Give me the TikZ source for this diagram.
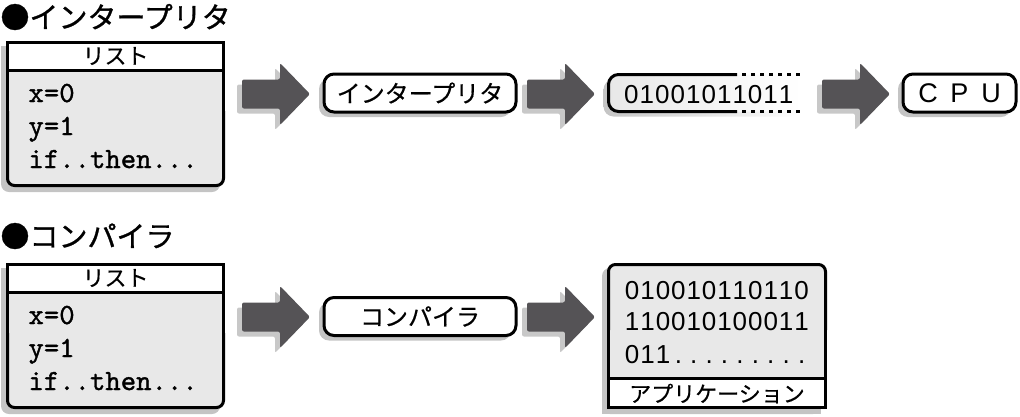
\documentclass[tikz,border=0pt]{standalone}
\usepackage{fontspec}
\setmainfont{Liberation Sans}
\newfontfamily\jp[FakeBold=0.4]{Noto Sans CJK JP}
\newfontfamily\jptitle[FakeBold=1]{Noto Sans CJK JP}
\newfontfamily\codefont[Extension=.otf,FakeBold=1.2]{lmmono10-regular}
\usetikzlibrary{calc,shadows}
\definecolor{shadowc}{HTML}{C4C4C4}
\definecolor{bodyc}{HTML}{E8E8E8}
\definecolor{arrowc}{HTML}{555356}
\definecolor{arrshadow}{HTML}{C8C8C8}
\def\fixw#1#2{\def\fixwidth{#1}\fixA#2\relax}
\def\fixA#1{\ifx#1\relax\else\makebox[\fixwidth][c]{#1}\expandafter\fixA\fi}
\newcommand\blockarrow[1]{%
  \fill[arrshadow, rounded corners=2] ($(#1)+(-5,5)$) ++(0,-14.5) -- ++(38,0) -- ++(0,-16.5) -- ++(30,31) -- ++(-30,31) -- ++(0,-16.5) -- ++(-38,0) -- cycle;
  \fill[arrowc, rounded corners=2] (#1) ++(0,-14.5) -- ++(38,0) -- ++(0,-16.5) -- ++(30,31) -- ++(-30,31) -- ++(0,-16.5) -- ++(-38,0) -- cycle;
}
\newcommand\listbox[1]{%
  \fill[shadowc, rounded corners=8] (1,5) rectangle (220,151);
  \fill[shadowc] (1,5) rectangle (220,70);
  \fill[bodyc, rounded corners=7] (7.5,1.5) rectangle (223.5,144.5);
  \fill[white] (7.5,1.5) rectangle (223.5,29);
  \draw (7.5,29) -- (223.5,29);
  \draw (7.5,70) -- (7.5,1.5) -- (223.5,1.5) -- (223.5,70);
  \draw[rounded corners=7] (7.5,70) -- (7.5,144.5) -- (223.5,144.5) -- (223.5,70);
  \node[jpsmall] (#1h) at (115.5,15) {リスト};
  \node[code] (#1a) at (27,61) {x=0};
  \node[code] (#1b) at (27,94) {y=1};
  \node[code] (#1c) at (27,127) {if..then...};
}
\begin{document}
\begin{tikzpicture}[x=1pt,y=-1pt,line width=3pt,
  title/.style={anchor=west,inner sep=0pt,font=\jptitle\fontsize{29}{31}\selectfont},
  jpsmall/.style={inner sep=0pt,font=\jp\fontsize{22}{24}\selectfont},
  code/.style={anchor=base west,inner sep=0pt,font=\codefont\fontsize{29.3}{31}\selectfont},
  digits/.style={anchor=base west,inner sep=0pt,font=\fontsize{26}{28}\selectfont},
  procbox/.style={draw,fill=white,rounded corners=10,minimum height=38,inner sep=0pt,
    drop shadow={shadow xshift=-5pt,shadow yshift=-5pt,fill=shadowc,opacity=1}},
  jpproc/.style={font=\jp\fontsize{24}{26}\selectfont}]
\useasboundingbox (0,0) rectangle (1020,416);

% ---------- interpreter ----------
\node[title] (t1) at (-1,17) {●インタープリタ};
\begin{scope}[shift={(0,41)}]
  \listbox{s1}
\end{scope}
\coordinate (a1) at (242,94);
\blockarrow{a1}
\node[procbox,jpproc,minimum width=192] (interp) at (420,93) {インタープリタ};
\coordinate (a2) at (527,94);
\blockarrow{a2}
% binary stream
\shade[left color=shadowc,right color=white,rounded corners=10] (603.5,79.5) rectangle (800,116.5);
\shade[left color=bodyc,right color=white,rounded corners=10] (608.5,74.5) rectangle (802,111.5);
\draw[rounded corners=10] (737,74.5) -- (608.5,74.5) -- (608.5,111.5) -- (737,111.5);
\draw[dash pattern=on 4pt off 5pt] (742,74.5) -- (802,74.5);
\draw[dash pattern=on 4pt off 5pt] (742,111.5) -- (802,111.5);
\node[digits] (bits) at (622,103) {\fixw{15.5pt}{01001011011}};
\coordinate (a3) at (822,94);
\blockarrow{a3}
\node[procbox,minimum width=113,font=\fontsize{27}{28}\selectfont] (cpu) at (959.5,93) {\fixw{31.5pt}{CPU}};

% ---------- compiler ----------
\node[title] (t2) at (-1,236) {●コンパイラ};
\begin{scope}[shift={(0,263)}]
  \listbox{s2}
\end{scope}
\coordinate (a4) at (242,317);
\blockarrow{a4}
\node[procbox,jpproc,minimum width=192] (comp) at (420,316.5) {コンパイラ};
\coordinate (a5) at (527,317);
\blockarrow{a5}
% application box
\fill[shadowc, rounded corners=8] (602,268) rectangle (821,414);
\fill[shadowc] (602,360) rectangle (821,414);
\fill[bodyc, rounded corners=7] (608.5,264.5) rectangle (825.5,407.5);
\fill[bodyc] (608.5,330) rectangle (825.5,378);
\fill[white] (608.5,378) rectangle (825.5,407.5);
\draw[rounded corners=7] (608.5,330) -- (608.5,264.5) -- (825.5,264.5) -- (825.5,330);
\draw (608.5,330) -- (608.5,407.5) -- (825.5,407.5) -- (825.5,330);
\draw (608.5,378) -- (825.5,378);
\node[digits] (b1) at (623,299) {\fixw{15.4pt}{010010110110}};
\node[digits] (b2) at (623,330) {\fixw{15.4pt}{110010100011}};
\node[digits] (b3) at (623,363) {\fixw{15.4pt}{011.........}};
\node[jpsmall] (app) at (717,393.5) {アプリケーション};
\end{tikzpicture}
\end{document}
